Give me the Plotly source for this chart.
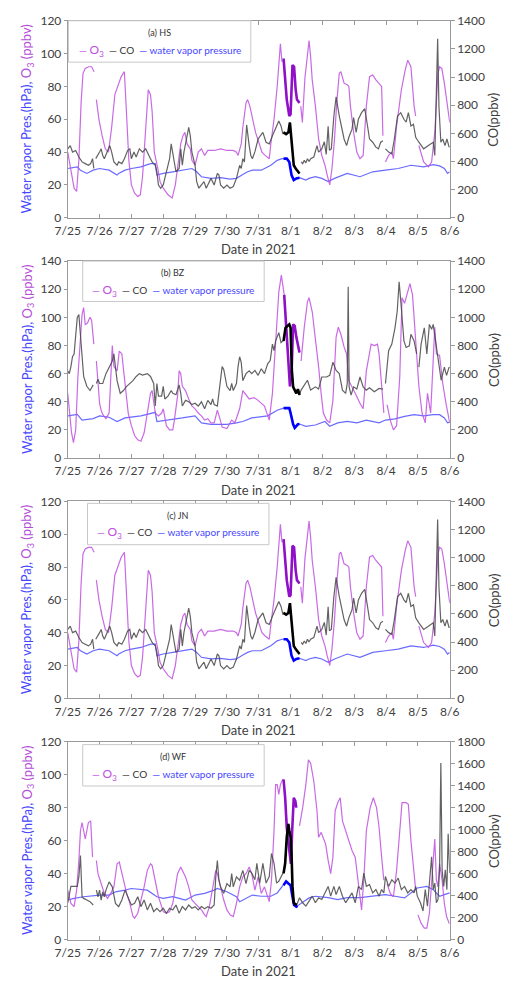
import plotly.graph_objects as go

# ---------------- data (time in days since 7/25 00:00) ----------------
DAY_TICKS = list(range(13))
DAY_LABELS = ["7/25", "7/26", "7/27", "7/28", "7/29", "7/30", "7/31",
              "8/1", "8/2", "8/3", "8/4", "8/5", "8/6"]
PANEL_NAMES = ["(a) HS", "(b) BZ", "(c) JN", "(d) WF"]
LEFT_MAX = [120, 140, 120, 120]
RIGHT_MAX = [1400, 1400, 1400, 1800]
RIGHT_DTICK = [200, 200, 200, 200]
HIGHLIGHT = [(6.78, 7.28), (6.78, 7.28), (6.78, 7.28), (6.78, 7.22)]

HS_O3 = [(0, 40), (0.1, 28), (0.2, 18), (0.28, 16), (0.35, 35), (0.42, 70), (0.48, 88), (0.55, 91),
         (0.65, 92), (0.75, 92), (0.83, 89), (0.86, None), (0.9, 72), (0.98, 60), (1.08, 50), (1.18, 42),
         (1.28, 40), (1.38, 55), (1.48, 75), (1.58, 80), (1.68, 86), (1.78, 89), (1.86, 60), (1.92, 35),
         (2.0, 20), (2.1, 15), (2.2, 13), (2.28, 14), (2.35, 25), (2.42, 45), (2.5, 72), (2.53, 78),
         (2.6, 75), (2.65, 65), (2.72, 40), (2.78, 35), (2.83, 30), (2.9, 22), (3.0, 18), (3.15, 14),
         (3.28, 12), (3.38, 20), (3.45, 30), (3.55, 45), (3.62, 50), (3.68, 52), (3.75, 45), (3.85, 42),
         (3.9, 35), (4.0, 32), (4.1, 40), (4.2, 42), (4.3, 38), (4.4, 41), (4.6, 41), (4.8, 42), (5.0, 41),
         (5.2, 41), (5.3, 40), (5.35, 38), (5.45, 45), (5.5, 55), (5.6, 70), (5.65, 72), (5.72, 68),
         (5.8, 60), (5.9, 52), (6.0, 46), (6.1, 40), (6.2, 38), (6.33, 36), (6.38, 45), (6.48, 60),
         (6.58, 80), (6.64, 100), (6.68, 106), (6.73, 95), (6.76, None), (6.78, 97), (6.83, 84),
         (6.88, 72), (6.96, 62), (7.0, 63), (7.06, 93), (7.11, 92), (7.16, 78), (7.2, 72), (7.28, 70),
         (7.3, None), (7.32, 68), (7.37, 58), (7.45, 85), (7.52, 100), (7.58, 108), (7.63, 98),
         (7.68, 84), (7.78, 68), (7.88, 48), (7.98, 38), (8.08, 32), (8.15, 26), (8.23, 20), (8.3, 30),
         (8.38, 48), (8.45, 70), (8.53, 88), (8.58, 89), (8.68, 82), (8.78, 81), (8.83, 80), (8.88, 68),
         (8.98, 52), (9.08, 40), (9.18, 36), (9.28, 38), (9.38, 68), (9.48, 86), (9.58, 87), (9.68, 84),
         (9.78, 82), (9.86, 80), (9.9, 50), (9.94, None), (9.98, 34), (10.08, 38), (10.18, 40),
         (10.23, 36), (10.33, 56), (10.48, 78), (10.6, 90), (10.68, 96), (10.78, 92), (10.88, 68),
         (10.93, 62), (10.97, None), (11.03, 44), (11.18, 34), (11.33, 31), (11.43, 34), (11.53, 52),
         (11.63, 88), (11.68, 92), (11.75, 91), (11.83, 82), (11.88, 74), (11.98, 60), (12.0, 58)]

HS_CO = [(0, 490), (0.08, 513), (0.15, 467), (0.25, 478), (0.35, 432), (0.45, 397), (0.55, 385),
         (0.65, 373), (0.72, 385), (0.78, 420), (0.82, 350), (0.85, None), (0.88, 420), (0.95, 443),
         (1.0, 467), (1.05, 490), (1.1, 443), (1.15, 420), (1.25, 478), (1.32, 513), (1.38, 467),
         (1.45, 397), (1.55, 373), (1.6, 397), (1.7, 385), (1.78, 420), (1.88, 478), (1.95, 490),
         (2.0, 420), (2.08, 467), (2.15, 432), (2.25, 490), (2.35, 467), (2.45, 490), (2.55, 443),
         (2.65, 397), (2.75, 373), (2.8, 327), (2.85, 233), (2.92, 210), (3.0, 233), (3.1, 327),
         (3.15, 373), (3.2, 420), (3.25, 525), (3.3, 467), (3.4, 327), (3.5, 350), (3.55, 490),
         (3.6, 373), (3.65, 467), (3.75, 583), (3.8, 642), (3.85, 583), (3.9, 467), (4.0, 373),
         (4.05, 257), (4.12, 210), (4.2, 233), (4.28, 257), (4.35, 210), (4.4, 233), (4.5, 280),
         (4.6, 233), (4.7, 315), (4.75, 303), (4.8, 233), (4.9, 210), (5.0, 233), (5.1, 210),
         (5.2, 222), (5.3, 280), (5.4, 373), (5.45, 350), (5.5, 420), (5.55, 397), (5.62, 660),
         (5.7, 513), (5.75, 443), (5.8, 420), (5.88, 470), (5.98, 560), (6.05, 580), (6.13, 607),
         (6.23, 537), (6.33, 525), (6.43, 583), (6.53, 630), (6.63, 688), (6.7, 653), (6.76, 595),
         (6.78, 607), (6.86, 595), (6.93, 607), (6.98, 677), (7.01, 600), (7.05, 467), (7.1, 373),
         (7.16, 350), (7.23, 327), (7.28, 315), (7.3, None), (7.33, 397), (7.38, 385), (7.43, 408),
         (7.48, 390), (7.53, 420), (7.58, 400), (7.63, 420), (7.73, 432), (7.83, 513), (7.88, 467),
         (7.98, 490), (8.06, 540), (8.12, 450), (8.18, 650), (8.22, 480), (8.28, 490), (8.36, 723),
         (8.43, 860), (8.53, 723), (8.63, 607), (8.68, 560), (8.76, 513), (8.83, 572), (8.93, 630),
         (8.98, 712), (9.06, 607), (9.13, 700), (9.23, 747), (9.33, 775), (9.4, 677), (9.48, 560),
         (9.58, 537), (9.68, 502), (9.76, 490), (9.83, 537), (9.9, 548), (9.94, None), (9.98, 490),
         (10.08, 467), (10.18, 455), (10.26, 560), (10.36, 723), (10.46, 747), (10.56, 700),
         (10.63, 680), (10.7, 747), (10.78, 653), (10.86, 665), (10.93, 572), (11.03, 537),
         (11.18, 490), (11.33, 513), (11.48, 537), (11.53, 443), (11.58, 910), (11.62, 1272),
         (11.66, 793), (11.72, 537), (11.78, 560), (11.85, 513), (11.91, 560), (11.98, 502), (12.0, 510)]

HS_WV = [(0, 30), (0.3, 31), (0.4, 29), (0.6, 27), (0.8, 29), (1.0, 30), (1.3, 29), (1.55, 26),
         (1.6, 27), (1.8, 29), (2.0, 30), (2.3, 31), (2.6, 33), (2.75, 33), (2.8, 26), (3.0, 27),
         (3.3, 28), (3.6, 29), (3.9, 30), (4.05, 28), (4.2, 25), (4.5, 24), (4.8, 24.4), (5.1, 23.6),
         (5.3, 24), (5.5, 26.4), (5.65, 28), (5.8, 29), (6.08, 29), (6.38, 32), (6.58, 35), (6.73, 36),
         (6.78, 36), (6.88, 36), (6.96, 34), (7.03, 26), (7.1, 23), (7.18, 24), (7.28, 24.4), (7.33, 24),
         (7.48, 23), (7.58, 24), (7.78, 25), (7.98, 24), (8.18, 22), (8.38, 24), (8.78, 27), (9.18, 25),
         (9.58, 28), (9.98, 29), (10.38, 30), (10.78, 32), (11.18, 31), (11.48, 32.4), (11.68, 31.6),
         (11.83, 30), (11.93, 27), (12.0, 28)]

BZ_O3 = [(0, 46), (0.05, 32), (0.12, 18), (0.18, 11), (0.25, 20), (0.32, 58), (0.4, 81), (0.45, 102),
         (0.5, 107), (0.55, 95), (0.62, 96), (0.7, 100), (0.75, 98), (0.82, 81), (0.86, None), (0.9, 69),
         (0.95, 55), (1.0, 39), (1.05, 34), (1.1, 31), (1.2, 28), (1.3, 32), (1.4, 80), (1.45, 65),
         (1.55, 62), (1.62, 76), (1.7, 74), (1.8, 51), (1.9, 32), (2.0, 23), (2.1, 16), (2.2, 13),
         (2.3, 12), (2.4, 18), (2.5, 32), (2.6, 46), (2.65, 48), (2.75, 32), (2.85, 30), (2.95, 32),
         (3.0, 35), (3.05, 29), (3.1, 23), (3.2, 20), (3.3, 20), (3.35, 27), (3.45, 44), (3.5, 62),
         (3.55, 60), (3.6, 51), (3.7, 48), (3.8, 42), (3.9, 37), (4.0, 35), (4.1, 32), (4.2, 30),
         (4.3, 27), (4.4, 28), (4.5, 25), (4.6, 25), (4.7, 34), (4.78, 28), (4.85, 22), (5.0, 21),
         (5.15, 27), (5.25, 25), (5.4, 35), (5.5, 48), (5.6, 45), (5.7, 42), (5.85, 43), (5.98, 41),
         (6.18, 37), (6.33, 27), (6.43, 46), (6.53, 81), (6.63, 118), (6.71, 130), (6.76, 123),
         (6.8, 116), (6.86, 97), (6.93, 69), (6.98, 51), (7.03, 60), (7.08, 95), (7.13, 94), (7.18, 86),
         (7.23, 81), (7.28, 75), (7.3, None), (7.33, 69), (7.43, 93), (7.53, 111), (7.58, 114),
         (7.68, 104), (7.78, 86), (7.88, 65), (7.96, 46), (8.03, 32), (8.13, 27), (8.23, 25), (8.33, 41),
         (8.43, 86), (8.5, 93), (8.58, 88), (8.68, 79), (8.76, 74), (8.83, 55), (8.93, 51), (9.03, 46),
         (9.18, 39), (9.28, 35), (9.38, 62), (9.53, 81), (9.63, 80), (9.73, 81), (9.78, 74), (9.86, 51),
         (9.93, 32), (9.97, None), (10.03, 38), (10.13, 27), (10.23, 20), (10.33, 23), (10.43, 58),
         (10.5, 114), (10.58, 110), (10.68, 119), (10.75, 124), (10.83, 116), (10.9, 93), (10.96, 74),
         (11.03, 51), (11.13, 32), (11.23, 25), (11.3, 46), (11.4, 32), (11.53, 93), (11.58, 74),
         (11.68, 73), (11.78, 53), (11.88, 39), (11.98, 25), (12.0, 25)]

BZ_CO = [(0, 620), (0.05, 600), (0.1, 650), (0.15, 720), (0.2, 740), (0.25, 880), (0.3, 1000),
         (0.35, 1020), (0.4, 860), (0.45, 690), (0.5, 580), (0.6, 510), (0.7, 480), (0.75, 500),
         (0.8, 520), (0.85, None), (0.9, 530), (0.95, 560), (1.0, 530), (1.1, 530), (1.2, 600),
         (1.3, 650), (1.4, 690), (1.45, 740), (1.5, 650), (1.55, 550), (1.65, 460), (1.75, 480),
         (1.85, 510), (1.95, 530), (2.05, 550), (2.15, 580), (2.25, 600), (2.35, 590), (2.5, 600),
         (2.6, 580), (2.7, 530), (2.75, 370), (2.8, 530), (2.85, 440), (2.95, 440), (3.0, 510),
         (3.05, 420), (3.15, 440), (3.25, 480), (3.3, 460), (3.4, 450), (3.5, 520), (3.55, 460),
         (3.6, 370), (3.7, 410), (3.8, 400), (3.9, 380), (4.0, 390), (4.1, 370), (4.2, 400), (4.3, 350),
         (4.4, 410), (4.5, 380), (4.55, 420), (4.6, 380), (4.7, 370), (4.75, 480), (4.85, 650),
         (4.9, 630), (5.0, 510), (5.1, 480), (5.15, 530), (5.2, 480), (5.3, 530), (5.35, 650),
         (5.4, 720), (5.45, 680), (5.5, 550), (5.6, 600), (5.7, 620), (5.78, 600), (5.88, 623),
         (5.98, 588), (6.08, 635), (6.18, 600), (6.28, 670), (6.36, 693), (6.43, 810), (6.48, 763),
         (6.53, 833), (6.63, 891), (6.7, 821), (6.76, 833), (6.78, 833), (6.84, 926), (6.9, 938),
         (6.96, 950), (7.0, 926), (7.04, 623), (7.08, 506), (7.13, 483), (7.18, 460), (7.23, 490),
         (7.28, 448), (7.33, 483), (7.43, 518), (7.53, 553), (7.63, 483), (7.78, 506), (7.88, 490),
         (7.98, 576), (8.13, 576), (8.23, 588), (8.33, 681), (8.43, 623), (8.53, 600), (8.63, 483),
         (8.73, 460), (8.78, 530), (8.81, 1218), (8.84, 506), (8.9, 448), (8.98, 506), (9.08, 490),
         (9.18, 576), (9.28, 506), (9.38, 483), (9.48, 500), (9.63, 471), (9.78, 495), (9.9, 490),
         (9.94, None), (9.98, 530), (10.08, 763), (10.18, 810), (10.28, 926), (10.35, 1043),
         (10.41, 1253), (10.48, 1066), (10.56, 833), (10.63, 786), (10.73, 798), (10.78, 880),
         (10.88, 833), (10.96, 740), (10.99, None), (11.03, 646), (11.1, 810), (11.2, 926),
         (11.28, 740), (11.36, 950), (11.43, 915), (11.48, 950), (11.56, 810), (11.63, 716),
         (11.73, 553), (11.83, 646), (11.9, 588), (11.98, 646), (12.0, 640)]

BZ_WV = [(0, 30), (0.3, 31), (0.45, 27), (0.8, 28), (1.0, 30), (1.3, 29), (1.55, 26), (1.8, 28.5),
         (2.3, 30), (2.6, 32), (2.75, 32.5), (2.8, 26), (3.2, 27), (3.6, 28.5), (4.0, 30), (4.2, 25),
         (4.5, 24), (5.0, 24), (5.3, 25), (5.5, 26), (5.78, 28.5), (6.0, 29), (6.28, 30), (6.58, 34),
         (6.73, 35.5), (6.78, 35.5), (6.96, 35.5), (7.0, 32), (7.08, 24), (7.13, 21.5), (7.23, 24),
         (7.28, 24.2), (7.48, 22.6), (7.78, 23.5), (8.08, 26), (8.23, 22.6), (8.48, 25), (8.78, 26),
         (9.08, 25), (9.38, 27), (9.78, 25), (9.98, 27), (10.28, 27.8), (10.58, 29.6), (10.88, 30.8),
         (11.18, 30), (11.48, 30.8), (11.68, 30.8), (11.83, 28.5), (11.93, 25), (12.0, 25.5)]

# JN panel reads identically to HS in the figure
JN_O3 = list(HS_O3)
JN_CO = list(HS_CO)
JN_WV = list(HS_WV)

WF_O3 = [(0, 30), (0.05, 26), (0.1, 22), (0.2, 20), (0.28, 30), (0.35, 48), (0.4, 66), (0.45, 71),
         (0.5, 66), (0.55, 61), (0.6, 66), (0.65, 71), (0.72, 72), (0.78, 50), (0.84, None), (0.9, 48),
         (0.95, 40), (1.05, 34), (1.15, 28), (1.25, 25), (1.35, 28), (1.45, 32), (1.55, 46), (1.62, 47),
         (1.7, 40), (1.75, 36), (1.85, 28), (1.95, 22), (2.0, 18), (2.05, 14), (2.1, 13), (2.2, 16),
         (2.3, 24), (2.4, 32), (2.5, 42), (2.6, 46), (2.65, 45), (2.75, 36), (2.85, 26), (2.95, 20),
         (3.0, 17), (3.1, 16), (3.2, 17), (3.3, 22), (3.45, 40), (3.55, 44), (3.6, 42), (3.7, 38),
         (3.8, 32), (3.9, 24), (4.0, 22), (4.1, 20), (4.2, 18), (4.3, 15), (4.35, 14), (4.45, 20),
         (4.55, 32), (4.65, 42), (4.7, 40), (4.8, 32), (4.9, 24), (5.0, 18), (5.1, 15), (5.2, 14),
         (5.3, 22), (5.4, 32), (5.5, 38), (5.6, 40), (5.7, 44), (5.78, 40), (5.88, 30), (5.98, 38),
         (6.08, 28), (6.18, 32), (6.28, 25), (6.33, 23), (6.4, 36), (6.48, 66), (6.53, 94), (6.58, 94),
         (6.63, 88), (6.68, 94), (6.75, 97), (6.78, 97), (6.83, 86), (6.88, 68), (6.93, 58), (6.98, 50),
         (7.01, 46), (7.05, 66), (7.1, 86), (7.15, 84), (7.18, 80), (7.22, None), (7.28, 69), (7.38, 80),
         (7.48, 94), (7.56, 109), (7.63, 107), (7.73, 96), (7.83, 78), (7.88, 62), (7.96, 65), (8.03, 62),
         (8.1, 58), (8.18, 48), (8.26, 40), (8.33, 50), (8.4, 78), (8.48, 83), (8.56, 86), (8.63, 72),
         (8.73, 66), (8.83, 60), (8.93, 54), (9.03, 50), (9.13, 32), (9.23, 18), (9.3, 36), (9.38, 66),
         (9.5, 80), (9.6, 86), (9.7, 80), (9.78, 68), (9.86, 50), (9.93, 36), (9.97, None), (10.03, 34),
         (10.13, 28), (10.23, 26), (10.33, 42), (10.43, 66), (10.5, 83), (10.63, 83), (10.7, 82),
         (10.78, 60), (10.86, 42), (10.93, 30), (10.96, None), (11.0, 15), (11.1, 10), (11.2, 7),
         (11.28, 7), (11.36, 16), (11.43, 36), (11.53, 61), (11.58, 36), (11.63, 32), (11.68, 46),
         (11.76, 36), (11.83, 22), (11.9, 14), (11.98, 10), (12.0, 10)]

WF_CO = [(0, 335), (0.05, 410), (0.1, 485), (0.2, 485), (0.3, 485), (0.35, 570), (0.4, 765),
         (0.45, 390), (0.5, 375), (0.6, 360), (0.7, 345), (0.8, 315), (0.85, None), (0.9, 450),
         (0.95, 390), (1.0, 450), (1.05, 360), (1.1, 435), (1.15, 390), (1.2, 450), (1.3, 525),
         (1.4, 480), (1.5, 330), (1.6, 300), (1.7, 360), (1.8, 450), (1.9, 375), (2.0, 315), (2.1, 330),
         (2.2, 390), (2.3, 300), (2.4, 360), (2.5, 270), (2.6, 330), (2.7, 255), (2.8, 285), (2.9, 255),
         (3.0, 285), (3.1, 240), (3.2, 285), (3.3, 270), (3.4, 315), (3.5, 240), (3.6, 300), (3.7, 270),
         (3.8, 315), (3.9, 285), (4.0, 300), (4.1, 270), (4.2, 300), (4.3, 280), (4.4, 300), (4.5, 285),
         (4.6, 315), (4.65, 570), (4.7, 720), (4.75, 540), (4.8, 480), (4.9, 420), (5.0, 510),
         (5.1, 480), (5.15, 600), (5.2, 480), (5.3, 570), (5.4, 540), (5.5, 630), (5.6, 510), (5.7, 630),
         (5.78, 604), (5.88, 544), (5.94, 694), (6.03, 514), (6.13, 694), (6.23, 514), (6.33, 574),
         (6.4, 783), (6.48, 694), (6.56, 514), (6.63, 530), (6.7, 574), (6.76, 604), (6.78, 604),
         (6.83, 694), (6.88, 933), (6.93, 1052), (6.96, 993), (7.0, 933), (7.03, 783), (7.06, 484),
         (7.1, 335), (7.16, 320), (7.2, 320), (7.28, 380), (7.38, 335), (7.48, 305), (7.58, 350),
         (7.68, 395), (7.78, 335), (7.88, 380), (7.98, 365), (8.08, 425), (8.18, 484), (8.26, 395),
         (8.36, 484), (8.43, 410), (8.53, 484), (8.63, 395), (8.73, 335), (8.83, 380), (8.93, 425),
         (9.03, 335), (9.13, 484), (9.23, 455), (9.3, 604), (9.38, 484), (9.48, 500), (9.58, 425),
         (9.68, 455), (9.78, 395), (9.86, 455), (9.93, 425), (9.98, 574), (10.08, 484), (10.18, 544),
         (10.28, 514), (10.38, 560), (10.48, 455), (10.58, 484), (10.68, 425), (10.78, 455),
         (10.88, 425), (10.93, 484), (10.98, 395), (11.08, 335), (11.16, 260), (11.23, 455),
         (11.3, 305), (11.38, 544), (11.43, 753), (11.48, 455), (11.53, 514), (11.58, 335),
         (11.63, 365), (11.68, 634), (11.72, 1606), (11.76, 634), (11.81, 484), (11.86, 634),
         (11.91, 455), (11.95, 963), (12.0, 604)]

WF_WV = [(0, 24), (0.2, 25), (0.5, 26), (1.0, 27), (1.3, 27), (1.5, 29), (1.8, 30), (2.0, 31),
         (2.5, 30), (2.8, 26), (3.0, 25), (3.3, 26), (3.5, 25), (3.7, 24), (4.0, 27), (4.3, 28),
         (4.6, 30), (4.7, 31), (5.0, 29), (5.3, 26), (5.4, 23), (5.6, 25), (5.8, 27), (6.08, 26.3),
         (6.38, 26.3), (6.58, 28.3), (6.73, 32), (6.78, 33), (6.86, 35.3), (6.93, 34), (7.0, 33),
         (7.06, 26), (7.11, 21), (7.18, 20), (7.22, 20.5), (7.38, 22.3), (7.58, 25.3), (7.78, 26.3),
         (8.18, 25.5), (8.48, 24.3), (8.78, 25.5), (9.18, 25.5), (9.58, 26.3), (9.98, 27.3),
         (10.28, 26.3), (10.58, 25.3), (10.98, 31.3), (11.28, 32.3), (11.48, 30.3), (11.68, 26.3),
         (11.83, 27.3), (12.0, 28.3)]

PANEL_DATA = [(HS_O3, HS_CO, HS_WV), (BZ_O3, BZ_CO, BZ_WV),
              (JN_O3, JN_CO, JN_WV), (WF_O3, WF_CO, WF_WV)]

# ---------------- styling / layout ----------------
W, H = 512, 987
FONT = "Lato"
X0, X1 = 57.3, 457.3
TOPS = [13, 257, 501, 745]
BOTS = [213, 457, 701, 946]
LEG_BOX = [(58, 249, 13, 55), (73, 263, 257, 298), (78, 268, 503, 545), (73, 263, 748, 790)]

O3_THIN, O3_THICK = "rgba(190,80,225,0.85)", "#9010c8"
CO_THIN, CO_THICK = "rgba(70,70,70,0.85)", "#000000"
WV_THIN, WV_THICK = "rgba(80,80,255,0.85)", "#0000ff"
AX_COL = "#9a9a9a"
TXT_COL = "#404040"


def fx(p):
    return p / W


def fy(p):
    return 1 - p / H


def split(pairs):
    return [p[0] for p in pairs], [p[1] for p in pairs]


def window(pairs, lo, hi):
    return [p for p in pairs if lo - 1e-9 <= p[0] <= hi + 1e-9]


fig = go.Figure()
layout = {}
annotations = []
shapes = []

for i in range(4):
    xa = "x" if i == 0 else f"x{i + 1}"
    yl = "y" if i == 0 else f"y{2 * i + 1}"
    yr = f"y{2 * i + 2}"
    o3, co, wv = PANEL_DATA[i]
    lo, hi = HIGHLIGHT[i]

    for pairs, col, yax in [(wv, WV_THIN, yl), (o3, O3_THIN, yl), (co, CO_THIN, yr)]:
        t, v = split(pairs)
        fig.add_trace(go.Scatter(x=t, y=v, mode="lines", xaxis=xa, yaxis=yax,
                                 line=dict(color=col, width=1.2), connectgaps=False,
                                 showlegend=False, hoverinfo="skip"))
    for pairs, col, yax in [(wv, WV_THICK, yl), (o3, O3_THICK, yl), (co, CO_THICK, yr)]:
        t, v = split(window(pairs, lo, hi))
        fig.add_trace(go.Scatter(x=t, y=v, mode="lines", xaxis=xa, yaxis=yax,
                                 line=dict(color=col, width=2.6), connectgaps=False,
                                 showlegend=False, hoverinfo="skip"))

    ydom = [fy(BOTS[i]), fy(TOPS[i])]
    xkey = "xaxis" if i == 0 else f"xaxis{i + 1}"
    ylkey = "yaxis" if i == 0 else f"yaxis{2 * i + 1}"
    yrkey = f"yaxis{2 * i + 2}"
    layout[xkey] = dict(domain=[fx(X0), fx(X1)], anchor=yl, range=[0, 12],
                        tickmode="array", tickvals=DAY_TICKS, ticktext=DAY_LABELS,
                        ticks="inside", ticklen=4, tickcolor=AX_COL, showline=True,
                        linecolor=AX_COL, linewidth=1, mirror="ticks", showgrid=False,
                        zeroline=False, ticklabelstandoff=2,
                        tickfont=dict(family=FONT, size=12, color=TXT_COL))
    layout[ylkey] = dict(domain=ydom, anchor=xa, range=[0, LEFT_MAX[i]], dtick=20,
                         ticks="outside", ticklen=3, tickcolor=AX_COL, showline=True,
                         linecolor=AX_COL, linewidth=1, showgrid=False, zeroline=False,
                         tickfont=dict(family=FONT, size=12, color=TXT_COL))
    layout[yrkey] = dict(domain=ydom, anchor=xa, overlaying=yl, side="right",
                         range=[0, RIGHT_MAX[i]], dtick=RIGHT_DTICK[i], ticks="outside",
                         ticklen=4, tickcolor=AX_COL, showline=True, linecolor=AX_COL,
                         linewidth=1, showgrid=False, zeroline=False,
                         tickfont=dict(family=FONT, size=12, color=TXT_COL))

    # x-axis title
    annotations.append(dict(text="Date in 2021", x=fx((X0 + X1) / 2), y=fy(BOTS[i] + 32),
                            xref="paper", yref="paper", showarrow=False,
                            xanchor="center", yanchor="middle",
                            font=dict(family=FONT, size=13, color=TXT_COL)))
    # left axis title
    annotations.append(dict(
        text="<span style='color:#4646ff'>Water vapor Pres.(hPa),</span> "
             "<span style='color:#b44fd8'>O<sub>3</sub> (ppbv)</span>",
        x=fx(15), y=fy((TOPS[i] + BOTS[i]) / 2), xref="paper", yref="paper",
        showarrow=False, textangle=-90, xanchor="center", yanchor="middle",
        font=dict(family=FONT, size=13)))
    # right axis title
    annotations.append(dict(text="CO(ppbv)", x=fx(503), y=fy((TOPS[i] + BOTS[i]) / 2),
                            xref="paper", yref="paper", showarrow=False, textangle=-90,
                            xanchor="center", yanchor="middle",
                            font=dict(family=FONT, size=13, color=TXT_COL)))
    # legend box
    bx0, bx1, by0, by1 = LEG_BOX[i]
    shapes.append(dict(type="rect", xref="paper", yref="paper", x0=fx(bx0), x1=fx(bx1),
                       y0=fy(by1), y1=fy(by0), line=dict(color="#c8c8c8", width=1),
                       fillcolor="white", layer="above"))
    cx = fx((bx0 + bx1) / 2)
    annotations.append(dict(text=PANEL_NAMES[i], x=cx, y=fy(by0 + 12), xref="paper",
                            yref="paper", showarrow=False, xanchor="center",
                            yanchor="middle", font=dict(family=FONT, size=9, color="#333333")))
    annotations.append(dict(
        text="<span style='color:#c050e0'>— <span style='font-size:12px'>O<sub>3</sub></span></span>"
             "  <span style='color:#333333'>— CO</span>"
             "  <span style='color:#4646ff'>— water vapor pressure</span>",
        x=cx, y=fy(by0 + 30), xref="paper", yref="paper", showarrow=False,
        xanchor="center", yanchor="middle", font=dict(family=FONT, size=10)))

fig.update_layout(width=W, height=H, margin=dict(l=0, r=0, t=0, b=0),
                  paper_bgcolor="white", plot_bgcolor="white", showlegend=False,
                  annotations=annotations, shapes=shapes, **layout)

fig.write_html("out.html")
